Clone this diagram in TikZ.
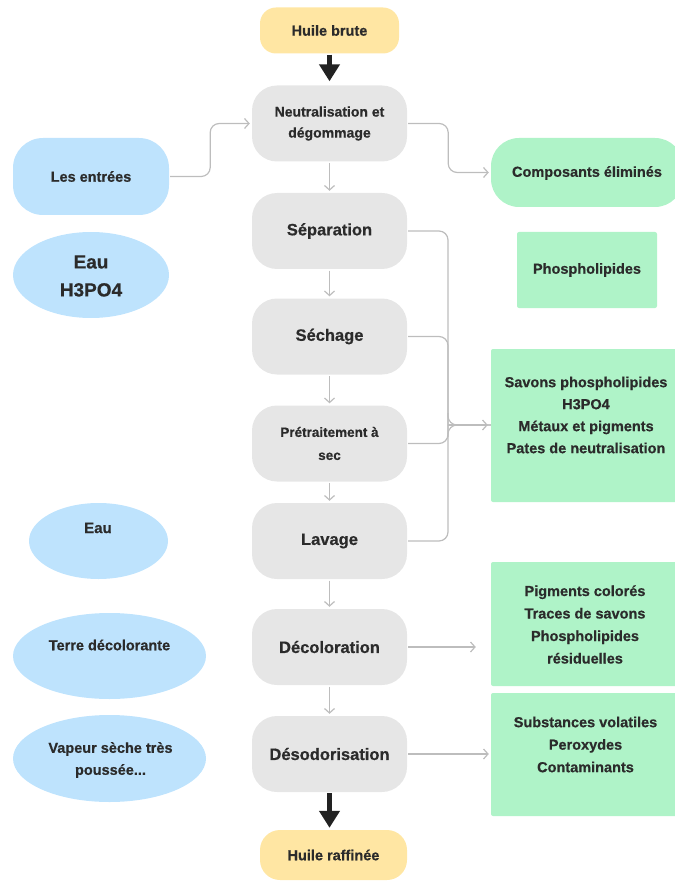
\documentclass[tikz,border=0pt]{standalone}
\usepackage{fontspec}
\setmainfont{Liberation Sans}[BoldFeatures={FakeBold=0.6}]
\usetikzlibrary{arrows.meta,shapes.geometric}
\definecolor{cyel}{HTML}{FFE6A3}
\definecolor{cgry}{HTML}{E6E6E6}
\definecolor{cblu}{HTML}{BEE3FD}
\definecolor{cgrn}{HTML}{AFF3C8}
\definecolor{ctxt}{HTML}{2B2B2B}
\definecolor{cline}{HTML}{BDBDBD}
\definecolor{cblk}{HTML}{222222}
\begin{document}
\begin{tikzpicture}[x=1pt,y=-1pt,
  base/.style={inner sep=0pt, align=center, text=ctxt, font=\bfseries\fontsize{14.5}{22}\selectfont},
  ybox/.style={base, fill=cyel, rounded corners=16pt, minimum height=46pt},
  stepbox/.style={base, fill=cgry, rounded corners=25pt, minimum width=155pt, minimum height=76pt, font=\bfseries\fontsize{16.5}{22}\selectfont},
  bbox/.style={base, fill=cblu, rounded corners=30pt},
  bell/.style={ellipse, fill=cblu, inner sep=0pt},
  rbox/.style={base, fill=cgrn, rounded corners=2pt},
  txt/.style={base},
  conn/.style={draw=cline, line width=1.2pt},
  arr/.style={conn, -{Straight Barb[length=4.5pt,width=10pt,line width=1.2pt]}},
  bigarr/.style={draw=cblk, line width=4.5pt, -{Triangle[length=17pt,width=20pt]}}
]
\useasboundingbox (0,0) rectangle (674,882);

% main column
\node[ybox, minimum width=139pt] (hb) at (329.5,30.5) {Huile brute};
\node[stepbox, font=\bfseries\fontsize{14}{21}\selectfont] (neut) at (329.5,123.5) {Neutralisation et\\dégommage};
\node[stepbox] (sep) at (329.5,231) {Séparation};
\node[stepbox] (sech) at (329.5,336.5) {Séchage};
\node[stepbox, font=\bfseries\fontsize{13.5}{23}\selectfont] (pret) at (329.5,443.5) {Prétraitement à\\sec};
\node[stepbox] (lav) at (329.5,541) {Lavage};
\node[stepbox] (deco) at (329.5,647) {Décoloration};
\node[stepbox] (deso) at (329.5,754) {Désodorisation};
\node[ybox, minimum width=147pt, minimum height=50pt, rounded corners=20pt] (hr) at (333.5,855) {Huile raffinée};

% left inputs
\node[bbox, minimum width=156pt, minimum height=77pt] (ent) at (91,176.5) {Les entrées};
\node[bell, minimum width=156pt, minimum height=86pt] (eauh) at (91,275) {};
\node[txt, font=\bfseries\fontsize{19}{28}\selectfont] (eauht) at (91,276) {Eau\\H3PO4};
\node[bell, minimum width=139pt, minimum height=76pt] (eau) at (98.5,541) {};
\node[txt, font=\bfseries\fontsize{15}{22}\selectfont] (eaut) at (98,528) {Eau};
\node[bell, minimum width=193pt, minimum height=86pt] (terre) at (109.5,656) {};
\node[txt] (terret) at (109.5,645) {Terre décolorante};
\node[bell, minimum width=193pt, minimum height=87pt] (vap) at (109.5,758.5) {};
\node[txt] (vapt) at (110.5,760) {Vapeur sèche très\\poussée...};

% right outputs
\node[bbox, fill=cgrn, rounded corners=28pt, minimum width=192pt, minimum height=69pt] (comp) at (587,172.5) {};
\node[txt] (compt) at (587,173) {Composants éliminés};
\node[rbox, minimum width=140pt, minimum height=76pt] (phos) at (587,270) {Phospholipides};
\node[rbox, minimum width=189pt, minimum height=153pt] (out1) at (585.5,425.5) {};
\node[txt] (out1t) at (586,415) {Savons phospholipides\\H3PO4\\Métaux et pigments\\Pates de neutralisation};
\node[rbox, minimum width=189pt, minimum height=124pt] (out2) at (585.5,624) {};
\node[txt, font=\bfseries\fontsize{14.5}{22.5}\selectfont] (out2t) at (585,624.5) {Pigments colorés\\Traces de savons\\Phospholipides\\résiduelles};
\node[rbox, minimum width=189pt, minimum height=123pt] (out3) at (585.5,754.5) {};
\node[txt, font=\bfseries\fontsize{14.5}{22.5}\selectfont] (out3t) at (585.5,744.5) {Substances volatiles\\Peroxydes\\Contaminants};

% thick arrows
\draw[bigarr, shorten <=1pt, shorten >=4pt] (hb.south) -- (neut.north);
\draw[bigarr, shorten <=1pt, shorten >=2pt] (deso.south) -- (deso.south |- hr.north);

% thin vertical arrows
\draw[arr, shorten <=1.5pt, shorten >=2pt] (neut.south) -- (sep.north);
\draw[arr, shorten <=1.5pt, shorten >=2pt] (sep.south) -- (sech.north);
\draw[arr, shorten <=1.5pt, shorten >=2pt] (sech.south) -- (pret.north);
\draw[arr, shorten <=1.5pt, shorten >=2pt] (pret.south) -- (lav.north);
\draw[arr, shorten <=1.5pt, shorten >=2pt] (lav.south) -- (deco.north);
\draw[arr, shorten <=1.5pt, shorten >=2pt] (deco.south) -- (deso.north);

% inputs / outputs of neutralisation
\draw[arr, rounded corners=9pt, shorten <=1pt, shorten >=2pt] (ent.east) -- ++(41,0) |- (neut.west);
\draw[arr, rounded corners=9pt, shorten <=1pt, shorten >=2pt] (neut.east) -- ++(41,0) |- (comp.west);

% bracket to out1
\coordinate (mrg) at (448,425);
\draw[conn, rounded corners=9pt, shorten <=1pt] (sep.east) -| (mrg);
\draw[conn, rounded corners=9pt, shorten <=1pt] (sech.east) -| (mrg);
\draw[conn, rounded corners=9pt, shorten <=1pt] (pret.east) -| (mrg);
\draw[conn, rounded corners=9pt, shorten <=1pt] (lav.east) -| (mrg);
\coordinate (mrgA) at (448,413);
\coordinate (mrgB) at (448,437);
\draw[conn, rounded corners=9pt] (mrgA) |- (out1.west |- mrg);
\draw[conn, rounded corners=9pt] (mrgB) |- (out1.west |- mrg);
\draw[arr, shorten >=3pt] (mrg) -- (out1.west |- mrg);

% later outputs
\draw[arr, shorten <=1pt, shorten >=15pt] (deco.east) -- (out2.west |- deco.east);
\draw[arr, shorten <=1pt, shorten >=2pt] (deso.east) -- (out3.west |- deso.east);
\end{tikzpicture}
\end{document}
